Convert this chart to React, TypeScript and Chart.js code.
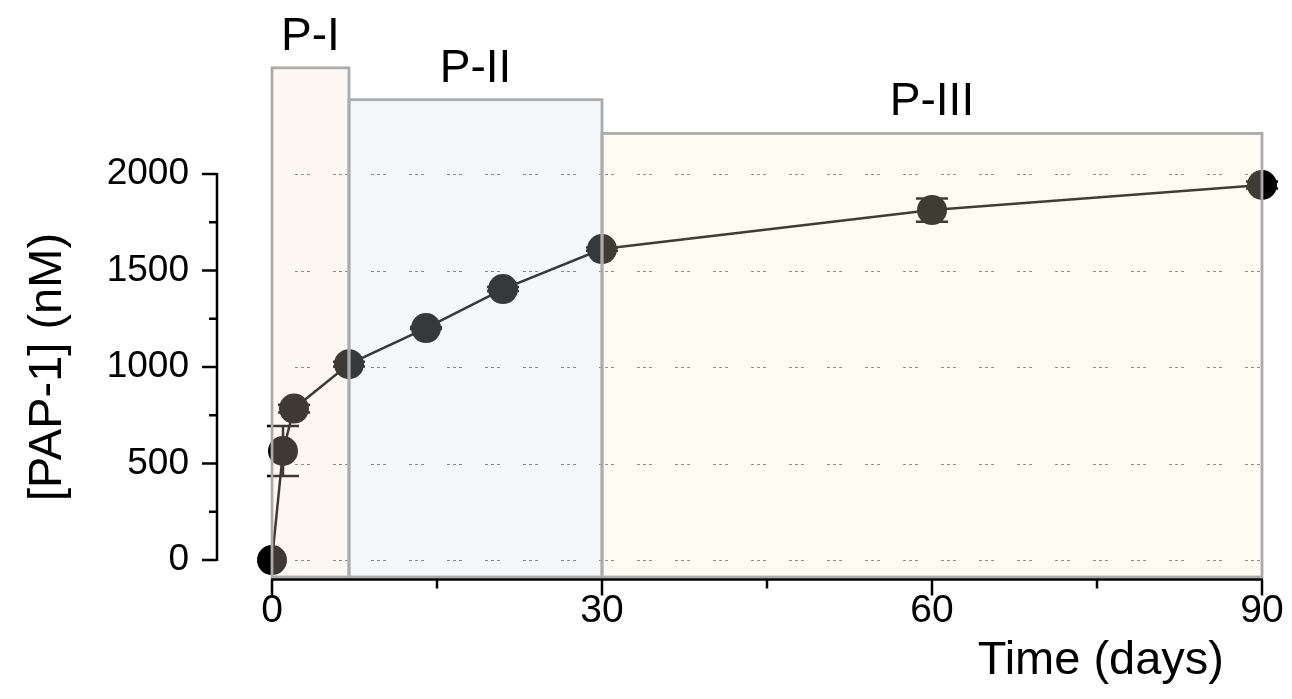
import { useEffect, useRef } from 'react';
import { Chart, registerables } from 'chart.js';

Chart.register(...registerables);

// ---- data ----
const days = [0, 1, 2, 7, 14, 21, 30, 60, 90];
const pap1 = [0, 565, 785, 1015, 1202, 1404, 1611, 1813, 1943];
const pap1Err = [0, 130, 20, 12, 5, 10, 8, 60, 18];

const xTicks = [0, 30, 60, 90];
const xMinorTicks = [15, 45, 75];
const yTicks = [0, 500, 1000, 1500, 2000];
const yMinorTicks = [250, 750, 1250, 1750];

const phaseLabels = ['P-I', 'P-II', 'P-III'];
const phaseStart = [0, 7, 30];
const phaseEnd = [7, 30, 90];
const phaseBoxTop = [2550, 2385, 2210];

const xTitle = 'Time (days)';
const yTitle = '[PAP-1] (nM)';

// ---- styles ----
const FONT = '"Liberation Sans", Arial, Helvetica, sans-serif';
const phaseColors = [
  'rgba(247,227,211,0.25)',
  'rgba(211,227,239,0.25)',
  'rgba(251,239,203,0.25)',
];

const overlayPlugin = {
  id: 'overlay',
  beforeDatasetsDraw(chart: any) {
    const { ctx, scales } = chart;
    const x = scales.x;
    const y = scales.y;
    const xa = x.getPixelForValue(xTicks[0]);
    const xb = x.getPixelForValue(xTicks[xTicks.length - 1]);
    // dashed grid lines
    ctx.save();
    ctx.strokeStyle = '#6f6f6f';
    ctx.lineWidth = 1;
    ctx.setLineDash([3, 3, 3, 3, 3, 23]);
    ctx.lineDashOffset = 15;
    yTicks.forEach((v) => {
      const py = Math.round(y.getPixelForValue(v)) + 0.5;
      ctx.beginPath();
      ctx.moveTo(xa, py);
      ctx.lineTo(xb, py);
      ctx.stroke();
    });
    ctx.restore();
    // error bars
    ctx.save();
    ctx.strokeStyle = '#000';
    ctx.lineWidth = 2.5;
    days.forEach((d, i) => {
      const e = pap1Err[i];
      if (!e) return;
      const px = x.getPixelForValue(d);
      const pt = y.getPixelForValue(pap1[i] + e);
      const pb = y.getPixelForValue(pap1[i] - e);
      ctx.beginPath();
      ctx.moveTo(px, pt);
      ctx.lineTo(px, pb);
      ctx.moveTo(px - 16, pt);
      ctx.lineTo(px + 16, pt);
      ctx.moveTo(px - 16, pb);
      ctx.lineTo(px + 16, pb);
      ctx.stroke();
    });
    ctx.restore();
  },
  afterDatasetsDraw(chart: any) {
    const { ctx, scales, chartArea } = chart;
    const x = scales.x;
    const y = scales.y;
    const yb = chartArea.bottom - 1;
    ctx.save();
    // phase boxes (translucent tint over data)
    phaseStart.forEach((s, i) => {
      const x0 = x.getPixelForValue(s);
      const x1 = x.getPixelForValue(phaseEnd[i]);
      const yt = y.getPixelForValue(phaseBoxTop[i]);
      ctx.fillStyle = phaseColors[i];
      ctx.fillRect(x0, yt, x1 - x0, yb - yt);
    });
    ctx.strokeStyle = '#ababab';
    ctx.lineWidth = 2.8;
    phaseStart.forEach((s, i) => {
      const x0 = x.getPixelForValue(s);
      const x1 = x.getPixelForValue(phaseEnd[i]);
      const yt = y.getPixelForValue(phaseBoxTop[i]);
      ctx.strokeRect(x0, yt, x1 - x0, yb - yt);
    });
    // phase labels
    ctx.fillStyle = '#000';
    ctx.font = `46px ${FONT}`;
    ctx.textAlign = 'center';
    ctx.textBaseline = 'alphabetic';
    phaseStart.forEach((s, i) => {
      const cx = (x.getPixelForValue(s) + x.getPixelForValue(phaseEnd[i])) / 2;
      const yt = y.getPixelForValue(phaseBoxTop[i]);
      ctx.fillText(phaseLabels[i], cx, yt - 18);
    });

    // axes
    ctx.strokeStyle = '#000';
    ctx.lineWidth = 2.5;
    const axX = chartArea.left;
    const y0 = y.getPixelForValue(yTicks[0]);
    const y1 = y.getPixelForValue(yTicks[yTicks.length - 1]);
    ctx.beginPath();
    ctx.moveTo(axX, y0 + 1);
    ctx.lineTo(axX, y1 - 1);
    yTicks.forEach((v) => {
      const py = y.getPixelForValue(v);
      ctx.moveTo(axX, py);
      ctx.lineTo(axX - 15, py);
    });
    yMinorTicks.forEach((v) => {
      const py = y.getPixelForValue(v);
      ctx.moveTo(axX, py);
      ctx.lineTo(axX - 8, py);
    });
    ctx.stroke();

    const axY = chartArea.bottom + 1.5;
    const xa = x.getPixelForValue(xTicks[0]);
    const xb = x.getPixelForValue(xTicks[xTicks.length - 1]);
    ctx.beginPath();
    ctx.moveTo(xa - 1, axY);
    ctx.lineTo(xb + 1, axY);
    xTicks.forEach((v) => {
      const px = x.getPixelForValue(v);
      ctx.moveTo(px, axY);
      ctx.lineTo(px, axY + 16);
    });
    xMinorTicks.forEach((v) => {
      const px = x.getPixelForValue(v);
      ctx.moveTo(px, axY);
      ctx.lineTo(px, axY + 9);
    });
    ctx.stroke();

    // axis titles
    ctx.fillStyle = '#000';
    ctx.font = `47px ${FONT}`;
    ctx.textAlign = 'right';
    ctx.textBaseline = 'alphabetic';
    ctx.fillText(xTitle, xb - 38, 674);

    ctx.save();
    ctx.translate(48, (y0 + y1) / 2);
    ctx.rotate(-Math.PI / 2);
    ctx.textAlign = 'center';
    ctx.textBaseline = 'middle';
    ctx.fillText(yTitle, 0, 0);
    ctx.restore();

    ctx.restore();
  },
};

export default function App() {
  const ref = useRef<HTMLCanvasElement>(null);
  useEffect(() => {
    const canvas = ref.current;
    if (!canvas) return;
    const chart = new Chart(canvas, {
      type: 'scatter',
      data: {
        datasets: [
          {
            data: days.map((d, i) => ({ x: d, y: pap1[i] })),
            showLine: true,
            borderColor: '#000',
            borderWidth: 2.5,
            pointRadius: 15,
            pointHoverRadius: 15,
            pointBackgroundColor: '#000',
            pointBorderWidth: 0,
            clip: false,
          } as any,
        ],
      },
      options: {
        responsive: false,
        animation: false,
        events: [],
        layout: { padding: { top: 174, right: 30, left: 0, bottom: 0 } },
        plugins: {
          legend: { display: false },
          tooltip: { enabled: false },
        },
        scales: {
          x: {
            type: 'linear',
            min: -5,
            max: 90,
            afterBuildTicks: (s: any) => {
              s.ticks = xTicks.map((v) => ({ value: v }));
            },
            afterFit: (s: any) => {
              s.height = 121;
              s.paddingLeft = 0;
              s.paddingRight = 0;
            },
            grid: { display: false, drawTicks: false },
            border: { display: false },
            ticks: {
              autoSkip: false,
              maxRotation: 0,
              padding: 10,
              color: '#000',
              font: { family: FONT, size: 39 },
              callback: (v: any) => String(v),
            },
          },
          y: {
            type: 'linear',
            min: -93,
            max: 2000,
            afterBuildTicks: (s: any) => {
              s.ticks = yTicks.map((v) => ({ value: v }));
            },
            afterFit: (s: any) => {
              s.width = 217;
              s.paddingTop = 0;
              s.paddingBottom = 0;
            },
            grid: { display: false, drawTicks: false },
            border: { display: false },
            ticks: {
              autoSkip: false,
              padding: 28,
              color: '#000',
              font: { family: FONT, size: 37 },
              callback: (v: any) => String(v),
            },
          },
        },
      },
      plugins: [overlayPlugin],
    } as any);
    return () => chart.destroy();
  }, []);
  return (
    <div
      style={{
        position: 'fixed',
        left: 0,
        top: 0,
        width: 1292,
        height: 699,
        background: '#fff',
      }}
    >
      <canvas ref={ref} width={1292} height={699} style={{ display: 'block' }} />
    </div>
  );
}
